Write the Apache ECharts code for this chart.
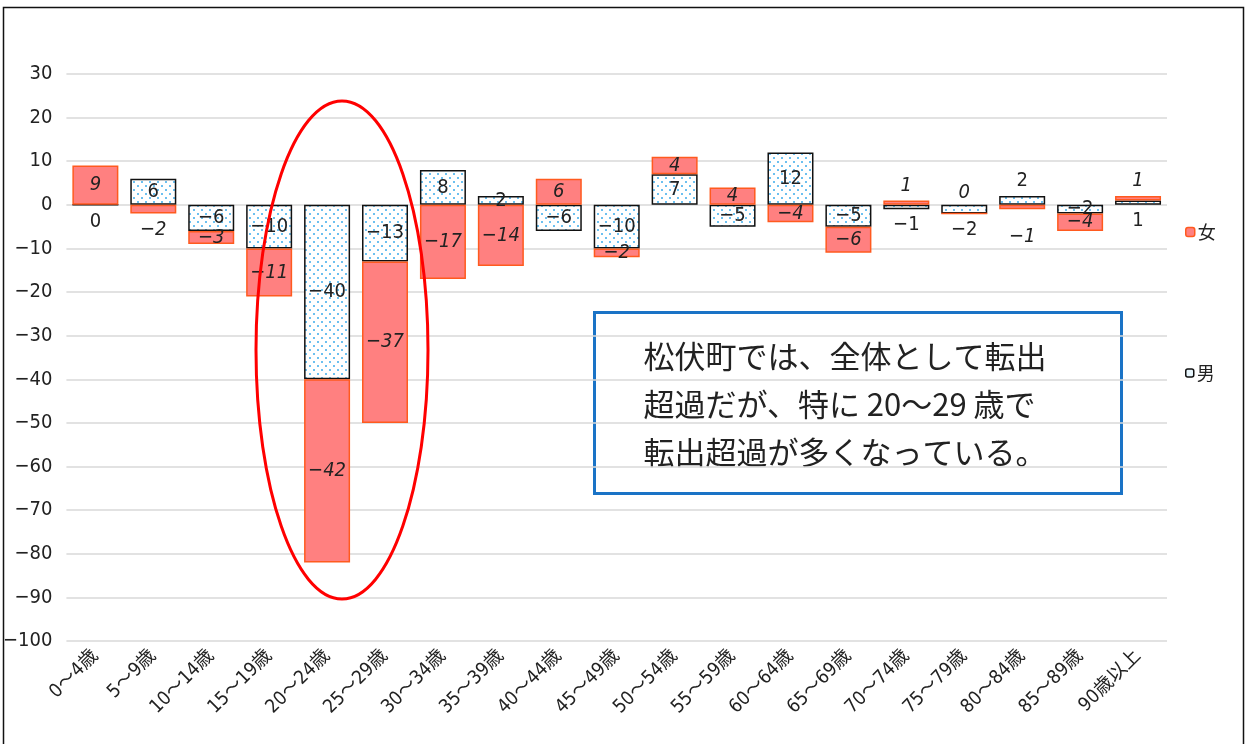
<!DOCTYPE html>
<html>
<head>
<meta charset="utf-8">
<script src="https://cdn.jsdelivr.net/npm/echarts@6/dist/echarts.min.js"></script>
<style>
  html, body { margin: 0; padding: 0; background: #fff; }
  #chart { width: 1245px; height: 744px; }
</style>
</head>
<body>
<div id="chart"></div>
<script>
// 年齢階級
const categories = ['0〜4歳', '5〜9歳', '10〜14歳', '15〜19歳', '20〜24歳', '25〜29歳', '30〜34歳', '35〜39歳',
  '40〜44歳', '45〜49歳', '50〜54歳', '55〜59歳', '60〜64歳', '65〜69歳', '70〜74歳', '75〜79歳',
  '80〜84歳', '85〜89歳', '90歳以上'];
// 転入超過数（男）
const maleValues = [0, 6, -6, -10, -40, -13, 8, 2, -6, -10, 7, -5, 12, -5, -1, -2, 2, -2, 1];
// 転入超過数（女）
const femaleValues = [9, -2, -3, -11, -42, -37, -17, -14, 6, -2, 4, 4, -4, -6, 1, 0, -1, -4, 1];

const yMin = -100;
const yMax = 30;
const yStep = 10;

// 小さい棒はラベルを外に出す
const maleLabelPos = { 0: 'bottom', 14: 'bottom', 15: 'bottom', 16: 'top', 18: 'bottom' };
const femaleLabelPos = { 1: 'bottom', 14: 'top', 15: 'top', 16: 'bottom', 18: 'top' };

const chartDom = document.getElementById('chart');
const chart = echarts.init(chartDom);

// 男の棒のドット模様
function makeDots() {
  const c = document.createElement('canvas');
  c.width = 8;
  c.height = 8;
  const ctx = c.getContext('2d');
  ctx.fillStyle = '#ffffff';
  ctx.fillRect(0, 0, 8, 8);
  ctx.fillStyle = '#6cc0f0';
  ctx.fillRect(1, 1, 2, 2);
  ctx.fillRect(5, 5, 2, 2);
  return c;
}
const dots = makeDots();

const minus = (v) => String(v).replace('-', '−');
const fontAxis = '"Liberation Sans Narrow", "DejaVu Sans Condensed", "Noto Sans CJK JP", sans-serif';

function buildData(values, posMap) {
  return values.map((v, i) => {
    const item = { value: v };
    if (posMap[i]) {
      item.label = { position: posMap[i], distance: posMap[i] === 'bottom' ? 6 : 5 };
    }
    return item;
  });
}

const femaleData = buildData(femaleValues, femaleLabelPos);
femaleData[16].label.distance = 18;
femaleData[15].label.distance = 10;

const option = {
  animation: false,
  grid: {
    left: 65,
    right: 78,
    top: 74,
    bottom: 103,
  },
  legend: [
    {
      data: [{ name: '女', itemStyle: { color: '#ff8080', borderColor: '#ff5a1f', borderWidth: 1.5 } }],
      left: 1180,
      top: 218,
      itemWidth: 9,
      itemHeight: 9,
      itemGap: 4,
      textStyle: { fontSize: 18, color: '#222', fontFamily: '"Noto Sans CJK JP", sans-serif', padding: [0, 0, 0, -2] },
    },
    {
      data: [{ name: '男', itemStyle: { color: '#e8f6fd', borderColor: '#111', borderWidth: 1.5 } }],
      left: 1180,
      top: 359,
      itemWidth: 8,
      itemHeight: 8,
      textStyle: { fontSize: 18, color: '#222', fontFamily: '"Noto Sans CJK JP", sans-serif', padding: [0, 0, 0, -2] },
    },
  ],
  xAxis: {
    type: 'category',
    data: categories,
    axisLine: { show: false },
    axisTick: { show: false },
    axisLabel: {
      interval: 0,
      rotate: 45,
      margin: 12,
      fontSize: 19,
      color: '#222',
      fontFamily: fontAxis,
    },
  },
  yAxis: {
    type: 'value',
    min: yMin,
    max: yMax,
    interval: yStep,
    axisLine: { show: false },
    axisTick: { show: false },
    axisLabel: {
      fontSize: 20,
      color: '#222',
      margin: 14,
      fontFamily: fontAxis,
      formatter: (v) => minus(v),
    },
    splitLine: { lineStyle: { color: '#d9d9d9', width: 1.5 } },
  },
  series: [
    {
      name: '男',
      type: 'bar',
      stack: 'total',
      barWidth: 46,
      data: buildData(maleValues, maleLabelPos),
      itemStyle: {
        color: { image: dots, repeat: 'repeat' },
        borderColor: '#111',
        borderWidth: 1.5,
      },
      label: {
        show: true,
        position: 'inside',
        fontSize: 20,
        color: '#222',
        fontFamily: fontAxis,
        formatter: (p) => minus(p.value),
      },
    },
    {
      name: '女',
      type: 'bar',
      stack: 'total',
      barWidth: 46,
      data: femaleData,
      itemStyle: {
        color: '#ff8080',
        borderColor: '#ff5a1f',
        borderWidth: 1.5,
      },
      label: {
        show: true,
        position: 'inside',
        fontSize: 20,
        fontStyle: 'italic',
        color: '#222',
        fontFamily: fontAxis,
        formatter: (p) => minus(p.value),
      },
    },
  ],
  graphic: [
    {
      type: 'rect',
      left: 1,
      top: 5,
      shape: { width: 1240, height: 745 },
      style: { fill: null, stroke: '#111', lineWidth: 1.5 },
      silent: true,
    },
    {
      type: 'ellipse',
      shape: { cx: 342, cy: 350, rx: 86, ry: 249 },
      style: { fill: null, stroke: '#ff0000', lineWidth: 3 },
      z: 100,
      silent: true,
    },
    {
      type: 'group',
      left: 593,
      top: 311,
      z: 100,
      children: [
        {
          type: 'rect',
          shape: { width: 527, height: 181 },
          style: { fill: '#fff', stroke: '#1a73c6', lineWidth: 3 },
        },
        {
          type: 'text',
          left: 49,
          top: 20,
          style: {
            text: '松伏町では、全体として転出\n超過だが、特に 20〜29 歳で\n転出超過が多くなっている。',
            font: '31px "Noto Sans CJK JP", sans-serif',
            lineHeight: 48,
            fill: '#222',
          },
        },
      ],
    },
  ],
};

chart.setOption(option);
</script>
</body>
</html>
